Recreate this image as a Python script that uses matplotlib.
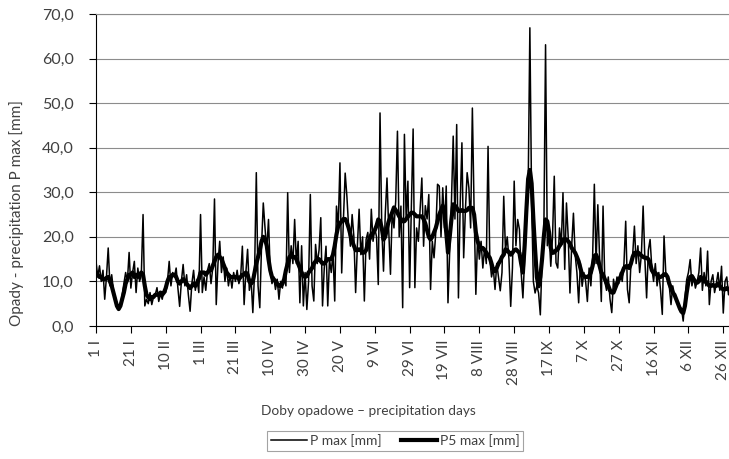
import numpy as np
import matplotlib
matplotlib.use('Agg')
import matplotlib.pyplot as plt

plt.rcParams['font.family'] = ['Lato', 'DejaVu Sans']

# daily maximum precipitation (mm), leap year, 1 I .. 31 XII
p_max = [
    14.5, 11.0, 13.5, 10.0, 12.5, 6.0, 11.0, 17.5, 9.0, 11.5,
    8.0, 6.5, 5.0, 3.8, 4.5, 7.0, 9.5, 12.0, 10.0, 16.5,
    8.5, 12.0, 14.5, 7.5, 13.0, 10.0, 11.5, 25.0, 4.5, 6.0,
    5.0, 7.5, 4.8, 6.5, 7.0, 8.6, 5.5, 7.2, 6.0, 8.0,
    7.5, 10.0, 14.5, 9.0, 12.0, 11.0, 13.0, 8.5, 4.4, 10.0,
    13.8, 9.0, 11.5, 7.0, 3.3, 9.5, 12.5, 8.0, 10.5, 7.5,
    25.0, 7.5, 11.0, 8.0, 12.5, 14.0, 9.5, 13.0, 28.5, 4.8,
    14.0, 19.0, 12.0, 15.5, 10.0, 13.0, 9.0, 11.5, 8.5, 12.0,
    10.0, 12.5, 9.5, 11.0, 17.9, 4.8, 12.0, 17.2, 8.0, 10.5,
    3.0, 12.0, 34.4, 9.0, 4.1, 18.0, 27.6, 22.0, 17.0, 23.9,
    12.0, 9.5, 11.0, 8.2, 10.5, 6.0, 10.0, 8.5, 11.5, 9.0,
    29.9, 12.0, 18.0, 14.0, 23.9, 14.0, 19.0, 5.2, 18.0, 4.5,
    12.0, 3.7, 10.0, 29.5, 9.0, 5.6, 18.3, 14.0, 17.0, 24.3,
    4.5, 13.0, 17.9, 4.5, 15.0, 12.0, 16.5, 5.6, 26.9, 22.0,
    36.6, 11.9, 24.0, 34.3, 29.0, 22.0, 17.9, 25.0, 20.0, 7.5,
    18.0, 26.2, 16.0, 20.0, 5.6, 19.4, 21.0, 15.0, 26.2, 19.0,
    22.0, 20.0, 9.3, 47.8, 22.0, 12.3, 25.0, 33.2, 21.5, 11.6,
    26.0, 22.0, 28.0, 43.7, 20.0, 26.9, 4.1, 43.0, 24.0, 32.5,
    8.6, 27.0, 44.2, 8.6, 22.0, 19.0, 26.0, 33.2, 17.9, 27.0,
    24.0, 29.5, 8.2, 19.0, 15.3, 21.0, 31.8, 31.4, 20.0, 31.0,
    22.0, 31.4, 5.2, 17.0, 28.0, 42.6, 24.0, 45.2, 6.3, 27.0,
    41.1, 15.3, 26.0, 34.4, 31.0, 22.0, 48.9, 26.0, 7.1, 20.0,
    15.0, 19.0, 13.0, 17.5, 14.0, 40.3, 15.0, 11.0, 13.0, 8.2,
    14.0, 11.0, 7.9, 12.0, 29.1, 17.0, 20.0, 15.0, 4.4, 13.0,
    32.5, 18.0, 23.9, 21.7, 12.0, 6.3, 15.0, 24.0, 30.0, 66.9,
    28.0, 10.0, 7.4, 9.0, 7.4, 2.5, 15.0, 20.0, 63.1, 18.0,
    21.0, 13.4, 20.0, 33.6, 14.2, 13.0, 22.0, 18.0, 29.9, 12.7,
    27.6, 20.0, 7.4, 18.0, 25.3, 16.0, 12.0, 5.2, 14.0, 8.9,
    12.0, 10.0, 5.5, 13.0, 9.0, 15.3, 31.8, 14.0, 27.2, 15.5,
    5.5, 26.9, 10.0, 8.0, 11.0, 6.0, 3.0, 10.5, 8.0, 11.0,
    9.5, 12.0, 10.0, 14.0, 23.5, 8.2, 5.2, 14.0, 16.0, 22.4,
    14.0, 18.0, 12.0, 16.0, 26.9, 15.0, 6.3, 17.0, 19.4, 13.0,
    10.0, 14.0, 9.0, 12.0, 8.0, 2.6, 20.2, 12.0, 11.0, 9.0,
    4.8, 9.0, 7.0, 6.0, 5.0, 3.5, 4.0, 1.1, 6.0, 10.4,
    12.0, 14.9, 9.0, 11.0, 8.5, 10.0, 12.0, 17.5, 8.0, 12.0,
    9.0, 16.8, 4.8, 10.0, 11.5, 7.5, 9.5, 12.0, 8.0, 13.4,
    2.9, 10.0, 11.0, 7.0, 10.0, 8.5,
]

# 5-day maximum precipitation series (mm)
p5_max = [
    12.0, 11.5, 11.0, 11.0, 10.5, 10.5, 10.8, 11.0, 10.0, 9.0,
    7.5, 6.0, 4.5, 3.8, 4.5, 6.0, 7.5, 9.5, 10.5, 11.5,
    11.5, 12.0, 11.0, 11.5, 11.0, 11.5, 12.0, 11.5, 9.0, 7.0,
    6.5, 6.0, 6.5, 6.5, 7.0, 7.0, 7.0, 7.5, 7.0, 7.5,
    8.5, 10.0, 11.0, 11.0, 11.5, 11.5, 11.0, 10.0, 9.5, 10.0,
    10.5, 10.0, 9.5, 9.0, 8.5, 9.0, 9.5, 9.0, 9.5, 10.5,
    12.0, 12.0, 12.0, 11.5, 12.0, 12.5, 12.5, 13.5, 14.5, 15.5,
    16.0, 15.5, 15.0, 14.0, 13.0, 12.0, 11.5, 11.0, 11.0, 11.0,
    11.0, 11.0, 10.5, 11.0, 11.5, 11.5, 12.0, 11.5, 10.0, 9.5,
    10.0, 12.0, 14.0, 15.5, 17.0, 19.0, 20.0, 19.5, 18.0, 15.0,
    12.5, 11.0, 10.5, 10.0, 9.5, 9.0, 9.0, 9.5, 10.5, 12.5,
    14.0, 15.5, 15.7, 15.5, 15.5, 15.0, 14.0, 13.0, 12.0, 11.2,
    11.0, 11.2, 12.0, 12.5, 13.0, 14.0, 14.5, 15.0, 15.0, 14.5,
    14.0, 14.0, 14.5, 15.0, 15.0, 15.0, 16.0, 18.0, 20.5, 22.4,
    23.0, 23.5, 24.0, 24.0, 23.2, 22.0, 20.5, 19.0, 18.0, 17.0,
    17.0, 17.2, 17.0, 16.4, 16.5, 17.0, 18.5, 19.5, 20.5, 20.9,
    21.5, 22.5, 23.9, 23.5, 22.0, 19.4, 20.0, 22.0, 23.5, 24.5,
    25.5, 26.6, 26.0, 25.4, 24.6, 24.0, 23.5, 23.5, 24.0, 24.5,
    25.0, 25.4, 25.4, 25.0, 24.6, 24.6, 24.6, 24.6, 24.0, 23.0,
    21.5, 20.0, 19.4, 20.0, 21.0, 22.0, 23.5, 25.0, 26.0, 27.0,
    25.0, 21.0, 16.5, 20.0, 24.0, 27.3, 27.0, 26.5, 25.8, 25.8,
    26.0, 25.8, 25.8, 26.0, 26.5, 26.5, 26.5, 25.0, 21.0, 19.0,
    18.0, 17.5, 17.5, 17.0, 16.5, 15.8, 15.3, 14.0, 12.5, 12.3,
    13.0, 14.0, 14.6, 15.5, 16.0, 17.2, 17.0, 16.5, 16.0, 16.4,
    17.0, 17.2, 16.8, 16.4, 14.0, 12.0, 18.0, 26.0, 33.0, 35.0,
    32.0, 24.0, 17.2, 11.0, 8.9, 11.0, 15.0, 20.0, 23.9, 23.5,
    21.0, 17.5, 16.4, 16.5, 17.0, 17.2, 18.0, 18.5, 19.4, 19.5,
    19.4, 19.0, 18.5, 17.5, 17.0, 16.4, 15.5, 14.5, 13.0, 11.5,
    11.2, 11.0, 11.0, 11.2, 12.0, 13.5, 15.7, 16.0, 15.0, 13.5,
    12.0, 11.5, 10.5, 9.6, 9.0, 8.0, 7.5, 7.5, 8.5, 9.5,
    10.4, 11.0, 12.0, 13.0, 13.4, 13.4, 13.0, 14.0, 15.5, 16.4,
    16.4, 16.5, 16.2, 15.8, 15.5, 15.3, 15.3, 15.0, 14.0, 12.5,
    11.9, 11.9, 11.5, 11.0, 11.0, 11.2, 11.6, 11.6, 11.0, 9.5,
    8.5, 7.5, 7.0, 6.0, 5.0, 4.0, 3.2, 2.9, 4.5, 7.5,
    10.0, 11.0, 11.2, 10.5, 10.0, 9.7, 10.0, 11.0, 10.5, 10.0,
    10.0, 9.5, 9.0, 9.0, 9.2, 9.0, 9.0, 9.5, 9.0, 8.5,
    8.2, 8.2, 8.5, 8.2, 8.0, 8.2,
]

tick_labels = ['1 I', '21 I', '10 II', '1 III', '21 III', '10 IV', '30 IV',
               '20 V', '9 VI', '29 VI', '19 VII', '8 VIII', '28 VIII',
               '17 IX', '7 X', '27 X', '16 XI', '6 XII', '26 XII']
y_ticks = [0, 10, 20, 30, 40, 50, 60, 70]

fig = plt.figure(figsize=(7.29, 4.59), dpi=100)
# plot area runs past the right edge of the picture, as in the original
ax = fig.add_axes([0.1317, 0.2898, 0.8724, 0.6797])

ax.plot(np.arange(len(p_max)), p_max, color='black', lw=1.1,
        label='P max [mm]')
ax.plot(np.arange(len(p5_max)), p5_max, color='black', lw=3.0,
        label='P5 max [mm]')

ax.set_xlim(0, 365)
ax.set_ylim(0, 70)
ax.set_yticks(y_ticks)
ax.set_yticklabels(['%d,0' % v for v in y_ticks], fontsize=11.5, color='#404040')
ax.set_xticks(np.arange(0, 20 * len(tick_labels), 20))
ax.set_xticklabels(tick_labels, rotation=90, fontsize=11, color='#404040')
ax.tick_params(axis='both', direction='out', length=5, width=0.8, color='black')
ax.tick_params(axis='x', pad=5)
ax.tick_params(axis='y', pad=11)

ax.grid(axis='y', color='#8c8c8c', lw=0.8)
ax.set_axisbelow(True)
ax.spines['right'].set_visible(False)
ax.spines['top'].set_color('#8c8c8c')
ax.spines['left'].set_color('black')
ax.spines['bottom'].set_color('black')

fig.text(0.022, 0.535, 'Opady - precipitation P max [mm]', rotation=90,
         ha='center', va='center', fontsize=11, color='#404040')
fig.text(0.505, 0.104, 'Doby opadowe \u2013 precipitation days',
         ha='center', va='center', fontsize=9.8, color='#404040')

leg = fig.legend(loc='center', bbox_to_anchor=(0.542, 0.040), ncol=2,
                 fontsize=10, frameon=True, fancybox=False, handlelength=2.6,
                 columnspacing=1.4, handletextpad=0.2, borderpad=0.25,
                 borderaxespad=0.0)
leg.get_frame().set_edgecolor('#8c8c8c')
leg.get_frame().set_linewidth(0.8)
for t in leg.get_texts():
    t.set_color('#404040')

fig.savefig('out.png', dpi=100)
